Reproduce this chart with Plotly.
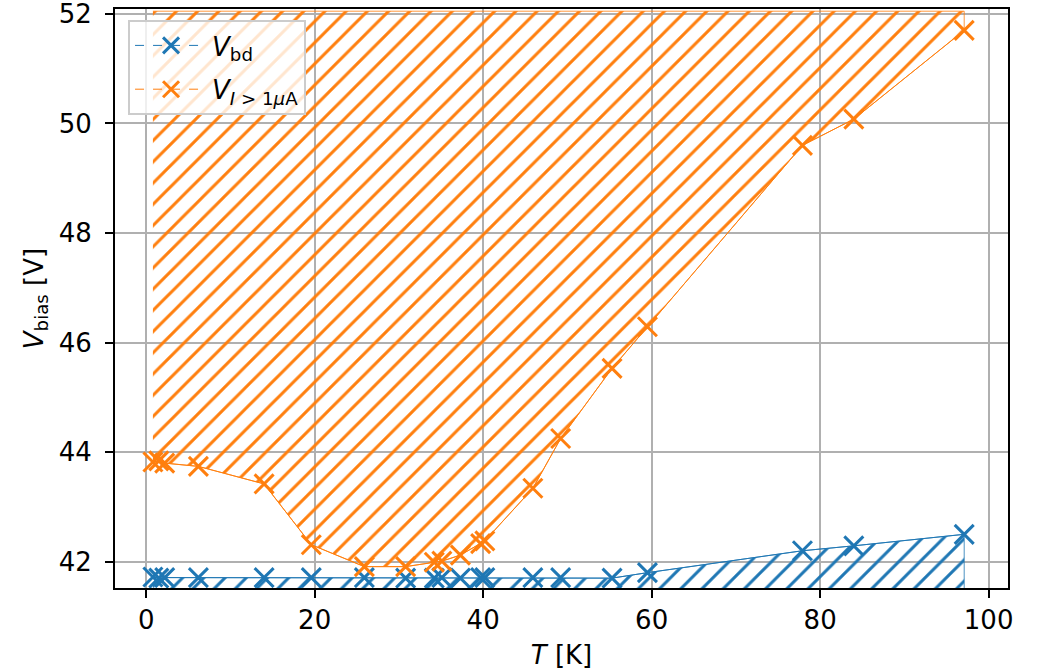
import plotly.graph_objects as go

# ---- data ----
T = [0.8, 1.5, 2.2, 6.2, 14.0, 19.6, 25.9, 30.8, 34.2, 35.1, 37.3, 39.7, 40.2,
     45.9, 49.2, 55.3, 59.5, 77.9, 84.0, 97.1]
V_bd = [41.72, 41.70, 41.71, 41.71, 41.71, 41.71, 41.71, 41.70, 41.70, 41.71,
        41.70, 41.71, 41.71, 41.71, 41.71, 41.70, 41.80, 42.20, 42.29, 42.50]
V_I = [43.82, 43.84, 43.80, 43.74, 43.42, 42.31, 41.91, 41.91, 41.99, 42.01,
       42.12, 42.33, 42.38, 43.34, 44.25, 45.53, 46.29, 49.60, 50.08, 51.70]
V_top = 52.05
V_bottom = 41.50
x_ticks = [0, 20, 40, 60, 80, 100]
y_ticks = [42, 44, 46, 48, 50, 52]

BLUE = "#1f77b4"
ORANGE = "#ff7f0e"
FONT = "DejaVu Sans"
FS = 26

fig = go.Figure()

# hatched regions
fig.add_trace(go.Scatter(
    x=T + [T[-1], T[0]], y=V_I + [V_top, V_top],
    fill="toself", mode="lines", line=dict(color=ORANGE, width=0.8),
    fillcolor="rgba(0,0,0,0)",
    fillpattern=dict(shape="/", fgcolor=ORANGE, fgopacity=1, bgcolor="rgba(0,0,0,0)",
                     size=15, solidity=0.2),
    showlegend=False, hoverinfo="skip"))
fig.add_trace(go.Scatter(
    x=T + [T[-1], T[0]], y=V_bd + [V_bottom, V_bottom],
    fill="toself", mode="lines", line=dict(color=BLUE, width=0.8),
    fillcolor="rgba(0,0,0,0)",
    fillpattern=dict(shape="/", fgcolor=BLUE, fgopacity=1, bgcolor="rgba(0,0,0,0)",
                     size=15, solidity=0.2),
    showlegend=False, hoverinfo="skip"))

# data lines + markers
for ys, col in [(V_bd, BLUE), (V_I, ORANGE)]:
    fig.add_trace(go.Scatter(
        x=T, y=ys, mode="lines+markers",
        line=dict(color=col, width=1.0),
        marker=dict(symbol="x-thin", size=19, line=dict(color=col, width=3)),
        showlegend=False))

# legend entries
for i, (name, col) in enumerate([("<i>V</i><sub>bd</sub>", BLUE),
                                 ("<i>V</i><sub><i>I</i> > 1<i>μ</i>A</sub>", ORANGE)]):
    fig.add_trace(go.Scatter(
        x=[None], y=[None], mode="lines+markers", name=name, legendgroup=f"g{i}",
        line=dict(color=col, width=1.0, dash="dash"),
        marker=dict(symbol="x-thin", size=19, line=dict(color=col, width=3))))

axis_common = dict(
    showline=True, mirror=True, linecolor="black", linewidth=1.8,
    ticks="outside", ticklen=8, tickwidth=1.8, tickcolor="black",
    showgrid=True, gridcolor="#b0b0b0", gridwidth=1.8, zeroline=False,
    tickfont=dict(family=FONT, size=FS, color="black"),
    automargin=False, ticklabeloverflow="allow",
)

fig.update_layout(
    width=1040, height=671,
    margin=dict(l=115, r=32, t=9, b=83),
    paper_bgcolor="white", plot_bgcolor="white",
    font=dict(family=FONT, size=FS, color="black"),
    xaxis=dict(range=[-3.7, 102.3], tickvals=x_ticks,
               title=dict(text="<i>T</i> [K]", font=dict(family=FONT, size=FS), standoff=12),
               **axis_common),
    yaxis=dict(range=[41.52, 52.09], tickvals=y_ticks, ticklabelstandoff=8,
               title=dict(text="<i>V</i><sub>bias</sub> [V]", font=dict(family=FONT, size=FS), standoff=8),
               **axis_common),
    legend=dict(x=0.0146, y=0.981, xanchor="left", yanchor="top",
                bgcolor="rgba(255,255,255,0.8)", bordercolor="#cccccc", borderwidth=2,
                font=dict(family=FONT, size=FS), itemwidth=72,
                tracegroupgap=7),
    showlegend=True,
)

fig.write_html("out.html")
